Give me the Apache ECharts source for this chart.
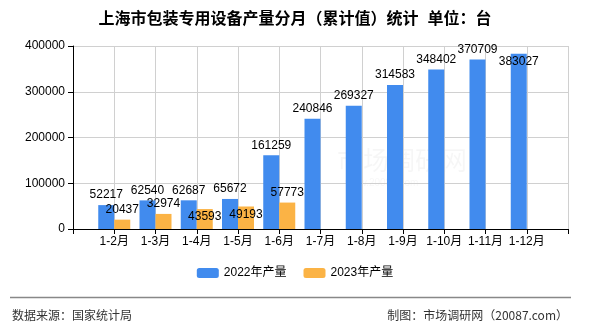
<!DOCTYPE html>
<html>
<head>
<meta charset="utf-8">
<script src="https://cdn.jsdelivr.net/npm/echarts@6/dist/echarts.min.js"></script>
<style>
  html, body { margin: 0; padding: 0; background: #fff; }
  #chart { width: 590px; height: 330px; }
</style>
</head>
<body>
<div id="chart"></div>
<script>
// Cumulative monthly output of packaging machinery, Shanghai (unit: 台)
const months = ['1-2月', '1-3月', '1-4月', '1-5月', '1-6月', '1-7月', '1-8月', '1-9月', '1-10月', '1-11月', '1-12月'];
const output2022 = [52217, 62540, 62687, 65672, 161259, 240846, 269327, 314583, 348402, 370709, 383027];
const output2023 = [20437, 32974, 43593, 49193, 57773, null, null, null, null, null, null];
const yTicks = { min: 0, max: 400000, interval: 100000 };

// Labels that sit just inside the bar top instead of above it
const inside2022 = ['1-12月'];
const inside2023 = ['1-4月', '1-5月'];

const FONT = '"Liberation Sans", "Noto Sans CJK SC", sans-serif';
const CJK = '"Noto Sans CJK SC", sans-serif';

// Axis carries an empty slot at each end so every group sits on a grid line
const axisCats = [''].concat(months, ['']);
function toItems(values, insideList) {
  const items = [null];
  values.forEach((v, i) => {
    if (v == null) { items.push(null); return; }
    if (insideList.indexOf(months[i]) >= 0) {
      items.push({ value: v, label: { position: 'insideTop', distance: 2 } });
    } else {
      items.push(v);
    }
  });
  items.push(null);
  return items;
}

const chart = echarts.init(document.getElementById('chart'), null, { renderer: 'canvas' });
chart.setOption({
  animation: false,
  backgroundColor: '#fff',
  title: {
    text: '上海市包装专用设备产量分月（累计值）统计  单位：台',
    left: 'center',
    top: 7,
    textStyle: { fontSize: 16, fontWeight: 'bold', color: '#000', fontFamily: FONT }
  },
  legend: {
    bottom: 46,
    left: 'center',
    itemWidth: 22,
    itemHeight: 10,
    itemGap: 17,
    textStyle: { fontSize: 12, color: '#000', fontFamily: FONT },
    data: ['2022年产量', '2023年产量']
  },
  grid: { left: 73, right: 22, top: 46, bottom: 101, containLabel: false },
  xAxis: {
    type: 'category',
    data: axisCats,
    boundaryGap: false,
    axisLine: { lineStyle: { color: '#000' } },
    axisTick: { show: true, length: 5, lineStyle: { color: '#000' } },
    axisLabel: { fontSize: 12, color: '#000', margin: 7, fontFamily: FONT, interval: 0 },
    splitLine: { show: true, lineStyle: { color: '#d0d0d0' } }
  },
  yAxis: {
    type: 'value',
    min: yTicks.min,
    max: yTicks.max,
    interval: yTicks.interval,
    axisLine: { show: true, lineStyle: { color: '#000' } },
    axisTick: { show: true, length: 5, lineStyle: { color: '#000' } },
    axisLabel: { fontSize: 12, color: '#000', margin: 8, fontFamily: FONT, formatter: (v) => String(v) },
    splitLine: { show: true, lineStyle: { color: '#d0d0d0' } }
  },
  series: [
    {
      name: '2022年产量',
      type: 'bar',
      data: toItems(output2022, inside2022),
      barWidth: 16,
      barGap: '0%',
      itemStyle: { color: '#418bee' },
      label: { show: true, position: 'top', distance: 4, fontSize: 12, color: '#000', fontFamily: FONT }
    },
    {
      name: '2023年产量',
      type: 'bar',
      data: toItems(output2023, inside2023),
      barWidth: 16,
      barGap: '0%',
      itemStyle: { color: '#fbb345' },
      label: { show: true, position: 'top', distance: 4, fontSize: 12, color: '#000', fontFamily: FONT }
    }
  ],
  graphic: [
    // faint site watermark
    {
      type: 'text', left: 337, top: 147, silent: true, z: 0,
      style: { text: '市场调研网', fontSize: 26, fill: 'rgba(0,0,0,0.035)', fontFamily: CJK }
    },
    {
      type: 'text', left: 345, top: 178, silent: true, z: 0,
      style: { text: 'www.20087.com', fontSize: 10, fill: 'rgba(0,0,0,0.035)', fontFamily: FONT }
    },
    // footer separator and credits
    {
      type: 'line', silent: true,
      shape: { x1: 10, y1: 297.5, x2: 571, y2: 297.5 },
      style: { stroke: '#888', lineWidth: 1.5 }
    },
    {
      type: 'text', left: 12, top: 309, silent: true,
      style: { text: '数据来源：国家统计局', fontSize: 12, fill: '#333', fontFamily: CJK }
    },
    {
      type: 'text', right: 22, top: 309, silent: true,
      style: { text: '制图：市场调研网（20087.com）', fontSize: 12, fill: '#333', fontFamily: CJK }
    }
  ]
});
</script>
</body>
</html>
